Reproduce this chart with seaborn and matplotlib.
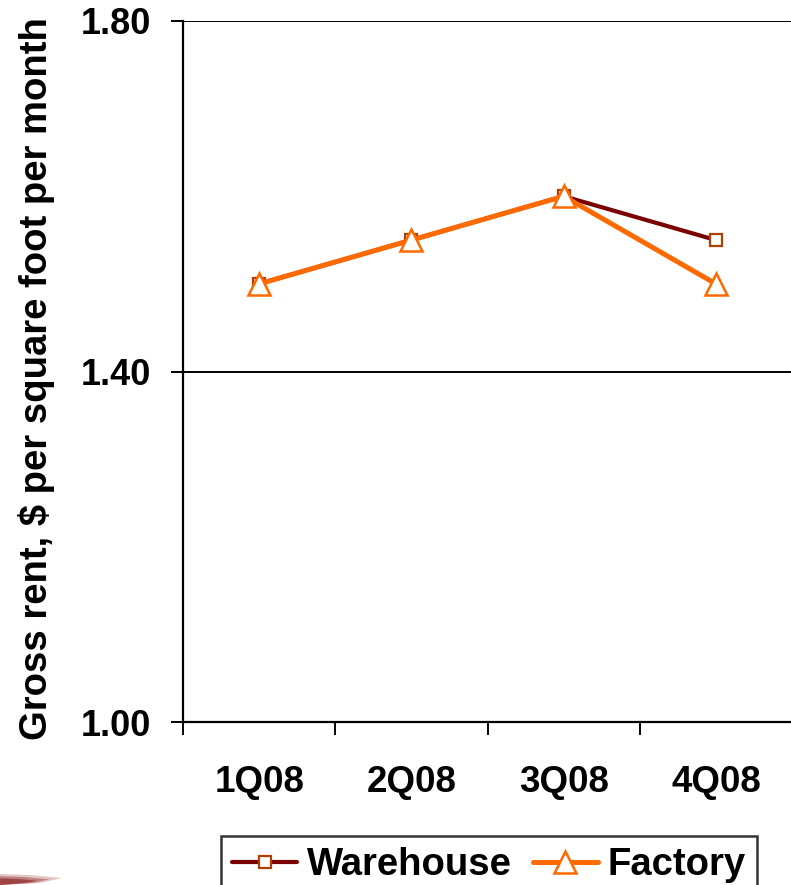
import matplotlib
matplotlib.use("Agg")
import matplotlib.pyplot as plt
from matplotlib.patches import Polygon
import seaborn as sns

quarters = ["1Q08", "2Q08", "3Q08", "4Q08"]
warehouse = [1.50, 1.55, 1.60, 1.55]
factory = [1.50, 1.55, 1.60, 1.50]
y_ticks = [1.00, 1.40, 1.80]
y_label = "Gross rent, $ per square foot per month"

sns.set_theme(style="white")
plt.rcParams["font.family"] = ["Liberation Sans", "DejaVu Sans"]
plt.rcParams["font.weight"] = "bold"
plt.rcParams["text.color"] = "black"
plt.rcParams["xtick.color"] = "black"
plt.rcParams["ytick.color"] = "black"
plt.rcParams["xtick.labelcolor"] = "black"
plt.rcParams["ytick.labelcolor"] = "black"

fig = plt.figure(figsize=(7.91, 8.85), dpi=100)
ax = fig.add_axes([183 / 791, 1 - 722 / 885, 609 / 791, (722 - 21) / 885])

sns.lineplot(x=quarters, y=warehouse, ax=ax, color="#7a0000", linewidth=3,
             marker="s", markersize=8, markerfacecolor="white",
             markeredgecolor="#b04000", markeredgewidth=1.6,
             label="Warehouse", sort=False)
sns.lineplot(x=quarters, y=factory, ax=ax, color="#ff6a00", linewidth=3.6,
             marker="^", markersize=16, markerfacecolor="white",
             markeredgecolor="#ff6a00", markeredgewidth=1.8,
             label="Factory", sort=False)

ax.set_xlim(-0.5, 3.5)
ax.set_ylim(1.00, 1.80)
ax.set_yticks(y_ticks)
ax.set_yticklabels([f"{v:.2f}" for v in y_ticks], fontsize=26,
                   fontweight="bold", color="black")
ax.set_xticks(range(len(quarters)))
ax.set_xticklabels(quarters, fontsize=26.5, fontweight="bold", color="black")
ax.set_xticks([i - 0.5 for i in range(len(quarters) + 1)], minor=True)
ax.tick_params(axis="x", which="major", length=0, pad=31)
ax.tick_params(axis="x", which="minor", length=9, width=1.4, color="black",
               direction="out", bottom=True)
ax.tick_params(axis="y", which="major", length=9, width=1.4, color="black",
               direction="out", left=True, pad=14)

for v in y_ticks[1:]:
    ax.axhline(v, color="black", linewidth=1.4, zorder=1)

for side in ("top", "right"):
    ax.spines[side].set_visible(False)
for side in ("left", "bottom"):
    ax.spines[side].set_color("black")
    ax.spines[side].set_linewidth(1.6)

ax.set_xlabel("")
ax.set_ylabel("")
fig.text(37 / 791, 1 - 379 / 885, y_label, rotation=90, ha="center", va="center",
         fontsize=27.5, fontweight="bold", color="black")

ax.get_legend().remove()
handles, labels = ax.get_legend_handles_labels()
leg = fig.legend(handles, labels, loc="upper left",
                 bbox_to_anchor=(221 / 791, 1 - 836 / 885),
                 ncol=2, frameon=True, fancybox=False,
                 prop={"size": 27.5, "weight": "bold"},
                 handlelength=1.7, handletextpad=0.25, columnspacing=0.55,
                 borderpad=0.3, borderaxespad=0)
leg.get_frame().set_edgecolor("black")
leg.get_frame().set_linewidth(1.8)
for t in leg.get_texts():
    t.set_color("black")

# decorative swoosh at the lower-left corner of the slide
for k, a in enumerate([0.25, 0.4, 0.6]):
    s = 1 - 0.2 * k
    fig.patches.append(Polygon([(0, 0), (0, 11 * s / 885), (30 * s / 791, 10 * s / 885),
                                (62 * s / 791, 7 * s / 885), (40 * s / 791, 2 / 885)],
                               closed=True, transform=fig.transFigure,
                               facecolor="#8a1c1c", edgecolor="none", alpha=a))

fig.savefig("out.png", dpi=100)
